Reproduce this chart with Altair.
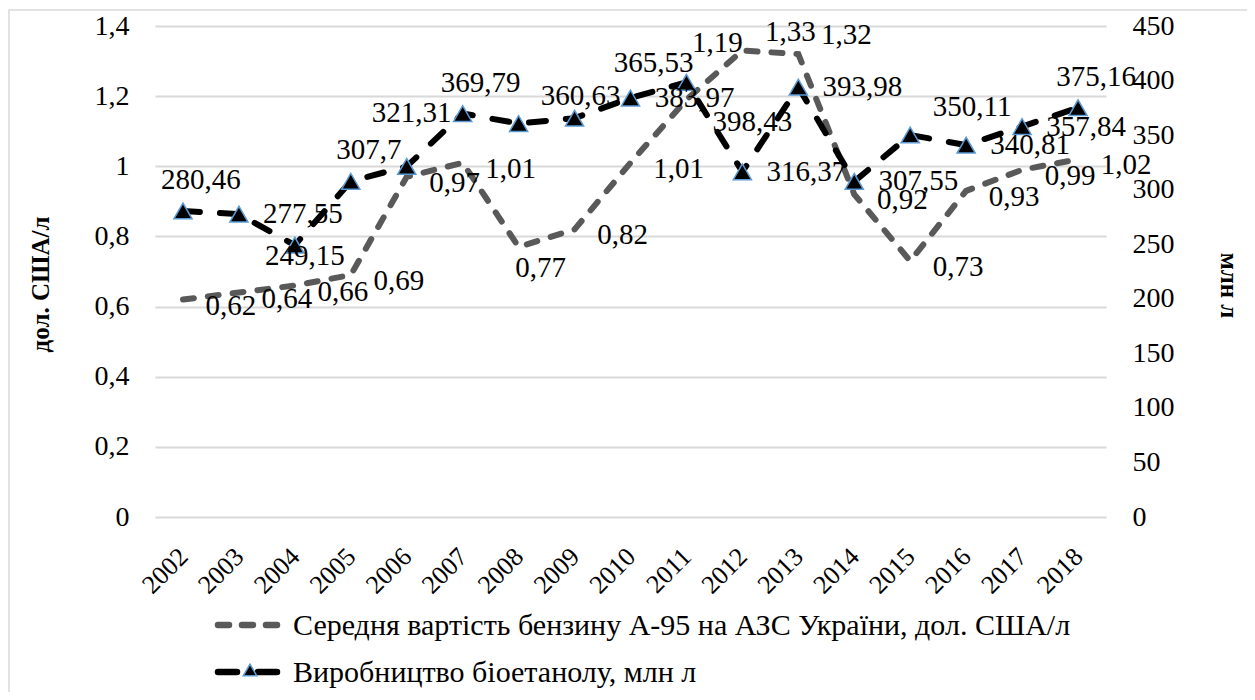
import altair as alt
import pandas as pd

years = [str(y) for y in range(2002, 2019)]
price = [0.62, 0.64, 0.66, 0.69, 0.97, 1.01, 0.77, 0.82, 1.01, 1.19, 1.33, 1.32, 0.92, 0.73, 0.93, 0.99, 1.02]
ethanol = [280.46, 277.55, 249.15, 307.7, 321.31, 369.79, 360.63, 365.53, 383.97, 398.43,
           316.37, 393.98, 307.55, 350.11, 340.81, 357.84, 375.16]
left_ticks = [0, 0.2, 0.4, 0.6, 0.8, 1.0, 1.2, 1.4]
right_ticks = [0, 50, 100, 150, 200, 250, 300, 350, 400, 450]
series_names = ["Середня вартість бензину А-95 на АЗС України, дол. США/л",
                "Виробництво біоетанолу, млн л"]
left_title = "дол. США/л"
right_title = "млн л"

# label placement style per year (as in the source chart)
price_place = ["right", "right", "right", "right", "right", "right", "below", "right", "right",
               "farabove", "above", "above", "right", "right", "right", "right", "right"]
eth_place = ["above", "right", "below", "above", "high", "above", "aboveright", "highright",
             "right", "belowright", "right", "right", "right", "aboveright", "right", "right", "above"]

PRICE_OFF = {"right": (48, 6), "below": (22, 21), "above": (48, -19), "farabove": (31, -57)}
ETH_OFF = {"above": (18, -31), "high": (5, -53), "right": (64, 0), "below": (10, 11),
           "aboveright": (62, -28), "highright": (79, -55), "belowright": (66, 40)}

df = pd.DataFrame({
    "year": years,
    "price": price,
    "ethanol": ethanol,
    "price_lbl": [f"{v:g}".replace(".", ",") for v in price],
    "eth_lbl": [f"{v:g}".replace(".", ",") for v in ethanol],
    "price_place": price_place,
    "eth_place": eth_place,
})

FONT = "Liberation Serif"
W, H = 951, 491
GRAY = "#595959"
BLUE = "#5b9bd5"

xenc = alt.X("year:O", scale=alt.Scale(type="point", padding=0.5),
             axis=alt.Axis(title=None, labelAngle=-45, domain=False, ticks=False,
                           labelFontSize=26, labelPadding=26, labelOffset=-9))

yleft = alt.Y("price:Q", scale=alt.Scale(domain=[0, 1.4]),
              axis=alt.Axis(title=left_title, values=left_ticks, domain=False, ticks=False,
                            grid=True, gridColor="#d9d9d9", gridWidth=1.8,
                            labelExpr="replace(format(datum.value, '.1~f'), '.', ',')",
                            labelPadding=26, titleAngle=-90, titleX=-115, titleY=258,
                            titleBaseline="middle", titleAlign="center",
                            titleFontWeight="bold", titleFontSize=25))
yright = alt.Y("ethanol:Q", scale=alt.Scale(domain=[0, 450]),
               axis=alt.Axis(title=right_title, orient="right", values=right_ticks,
                             domain=False, ticks=False, grid=False, labelPadding=26,
                             titleAngle=90, titleX=122, titleY=259,
                             titleBaseline="middle", titleAlign="center",
                             titleFontWeight="bold", titleFontSize=25))

base = alt.Chart(df)

price_line = base.mark_line(color=GRAY, strokeWidth=6, strokeDash=[11, 14],
                            strokeCap="round").encode(x=xenc, y=yleft)
price_texts = [
    base.transform_filter(alt.datum.price_place == k).mark_text(
        font=FONT, fontSize=29, dx=dx, dy=dy, color="black").encode(
        x=xenc, y=yleft, text="price_lbl:N")
    for k, (dx, dy) in PRICE_OFF.items()
]

eth_line = base.mark_line(color="black", strokeWidth=6, strokeDash=[17, 20],
                          strokeCap="round").encode(x=xenc, y=yright)
eth_pts = base.mark_point(shape="triangle-up", size=330, filled=True, fill="black",
                          stroke=BLUE, strokeWidth=1.5, opacity=1).encode(x=xenc, y=yright)
eth_texts = [
    base.transform_filter(alt.datum.eth_place == k).mark_text(
        font=FONT, fontSize=29, dx=dx, dy=dy, color="black").encode(
        x=xenc, y=yright, text="eth_lbl:N")
    for k, (dx, dy) in ETH_OFF.items()
]

one = pd.DataFrame({"k": [0]})
border = alt.Chart(one).mark_rect(fill=None, stroke="#d9d9d9", strokeWidth=1.5).encode(
    x=alt.value(-146), x2=alt.value(1200), y=alt.value(-16), y2=alt.value(720))

leg_rule1 = alt.Chart(one).mark_rule(color=GRAY, strokeWidth=6.5, strokeDash=[11, 13],
                                     strokeCap="round").encode(
    x=alt.value(63), x2=alt.value(122), y=alt.value(599))
leg_text1 = alt.Chart(one).mark_text(font=FONT, fontSize=30, align="left", baseline="middle").encode(
    x=alt.value(138), y=alt.value(600), text=alt.value(series_names[0]))
leg_rule2 = alt.Chart(one).mark_rule(color="black", strokeWidth=6.5, strokeDash=[19, 21],
                                     strokeCap="round").encode(
    x=alt.value(63), x2=alt.value(122), y=alt.value(646))
leg_pt2 = alt.Chart(one).mark_point(shape="triangle-up", size=180, filled=True, fill="black",
                                    stroke=BLUE, strokeWidth=1.5, opacity=1).encode(
    x=alt.value(95), y=alt.value(644))
leg_text2 = alt.Chart(one).mark_text(font=FONT, fontSize=30, align="left", baseline="middle").encode(
    x=alt.value(138), y=alt.value(647), text=alt.value(series_names[1]))

left_layer = alt.layer(price_line, *price_texts)
right_layer = alt.layer(eth_line, eth_pts, *eth_texts)

chart = alt.layer(
    border, left_layer, right_layer, leg_rule1, leg_text1, leg_rule2, leg_pt2, leg_text2
).resolve_scale(y="independent").properties(
    width=W, height=H,
    autosize=alt.AutoSizeParams(type="none"),
    padding={"left": 147, "top": 18, "right": 141, "bottom": 175},
).configure_view(stroke=None).configure_axis(
    labelFont=FONT, titleFont=FONT, labelFontSize=28, labelColor="black", titleColor="black"
)

chart.save("out.html", embed_options={"renderer": "svg", "actions": False})
